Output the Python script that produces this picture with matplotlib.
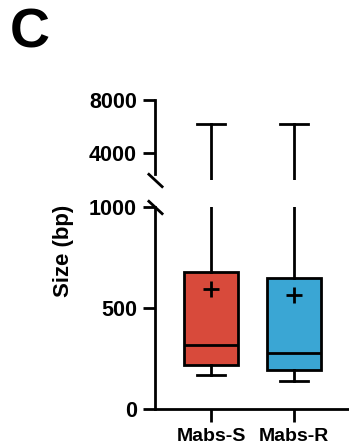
import matplotlib
matplotlib.use("Agg")
import matplotlib.pyplot as plt

plt.rcParams['font.family'] = ['Liberation Sans', 'DejaVu Sans']

categories = ["Mabs-S", "Mabs-R"]
whislo = [166, 139]
q1 = [219, 194]
med = [318, 277]
q3 = [678, 650]
whishi = [6200, 6200]
means = [592, 562]
colors = ["#D84A3B", "#3AA6D4"]

W, H = 349, 446
fig = plt.figure(figsize=(W / 100, H / 100), dpi=100)

left = 155 / W
width = (W - 155) / W
ax_top = fig.add_axes([left, (H - 179.5) / H, width, (179.5 - 100) / H])
ax_bot = fig.add_axes([left, (H - 409) / H, width, (409 - 207) / H])

stats = []
for i, c in enumerate(categories):
    stats.append(dict(label=c, whislo=whislo[i], q1=q1[i], med=med[i],
                      q3=q3[i], whishi=whishi[i], mean=means[i]))

lw = 2.0
ytick_fs = 15.5
for ax in (ax_top, ax_bot):
    bp = ax.bxp(stats, positions=[1, 2], widths=0.66, patch_artist=True,
                showmeans=True, showfliers=False,
                boxprops=dict(linewidth=lw, edgecolor='black'),
                medianprops=dict(color='black', linewidth=lw),
                whiskerprops=dict(color='black', linewidth=lw),
                capprops=dict(color='black', linewidth=lw),
                meanprops=dict(marker='+', markeredgecolor='black',
                               markersize=11, markeredgewidth=2),
                capwidths=0.34)
    for patch, col in zip(bp['boxes'], colors):
        patch.set_facecolor(col)
    ax.set_xlim(1 - 56 / 83, 2 + 55 / 83)
    for s in ('top', 'right'):
        ax.spines[s].set_visible(False)
    ax.spines['left'].set_linewidth(lw)
    ax.spines['bottom'].set_linewidth(lw)
    ax.tick_params(axis='both', width=lw, length=9, pad=4)

ax_top.set_ylim(2000, 8000)
ax_top.set_yticks([4000, 8000])
ax_top.set_yticklabels(["4000", "8000"], fontweight='bold', fontsize=ytick_fs)
ax_top.spines['bottom'].set_visible(False)
ax_top.tick_params(axis='x', bottom=False, labelbottom=False)
ax_top.spines['left'].set_bounds(2400, 8000)

ax_bot.set_ylim(0, 1000)
ax_bot.set_yticks([0, 500, 1000])
ax_bot.set_yticklabels(["0", "500", "1000"], fontweight='bold', fontsize=ytick_fs)
ax_bot.set_xticks([1, 2])
ax_bot.set_xticklabels(categories, fontweight='bold', fontsize=14)
ax_bot.tick_params(axis='x', pad=5)

# break marks
kw = dict(marker=[(-1, 0.93), (1, -0.93)], markersize=11, linestyle='none',
          color='k', mec='k', mew=lw, clip_on=False)
ax_top.plot([0], [0], transform=ax_top.transAxes, **kw)
ax_bot.plot([0], [1], transform=ax_bot.transAxes, **kw)

fig.text(63 / W, 1 - 251 / H, "Size (bp)", rotation=90, ha='center',
         va='center', fontsize=16, fontweight='bold')
fig.text(30 / W, 1 - 34 / H, "C", ha='center', va='center', fontsize=40,
         fontweight='bold')

fig.savefig("out.png", dpi=100)
